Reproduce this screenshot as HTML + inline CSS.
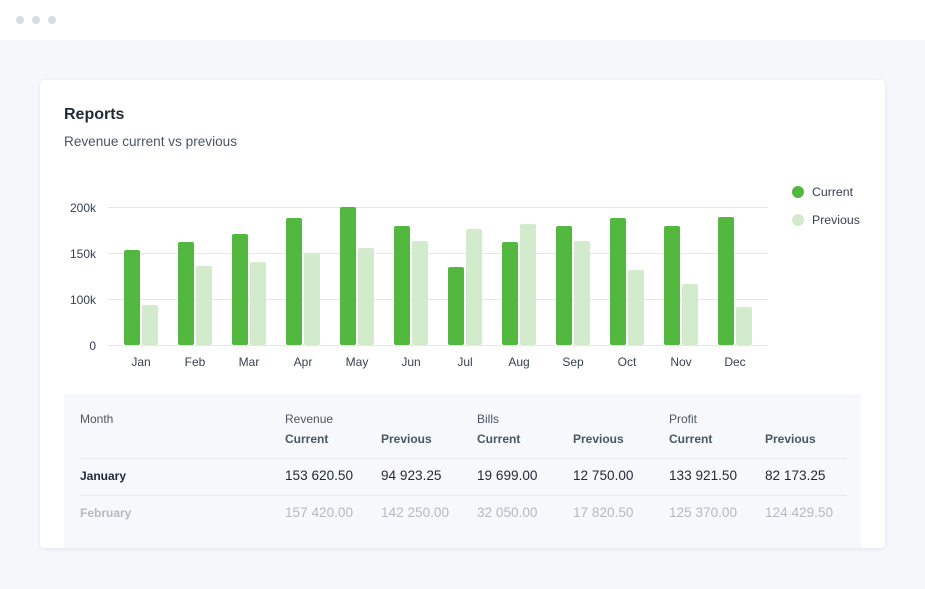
<!DOCTYPE html>
<html><head><meta charset="utf-8"><style>
*{margin:0;padding:0;box-sizing:border-box}
body{width:925px;height:589px;background:#f5f7fb;font-family:"Liberation Sans",sans-serif;position:relative;overflow:hidden;color:#1f2937}
.top{position:absolute;left:0;top:0;width:925px;height:40px;background:#fff}
.dot{position:absolute;top:16px;width:8px;height:8px;border-radius:50%;background:#d7dbe3}
.card{position:absolute;left:40px;top:80px;width:845px;height:468px;background:#fff;border-radius:4px;box-shadow:0 1px 4px rgba(20,30,60,.08)}
.t{position:absolute;white-space:nowrap}
.panel{position:absolute;left:64px;top:394px;width:797px;height:154px;background:#f7f8fc}
.d{font-size:13.6px}
</style></head><body>
<div class="top"><div class="dot" style="left:16px"></div><div class="dot" style="left:32px"></div><div class="dot" style="left:48px"></div></div>
<div class="card"></div>
<div class="t" style="left:64px;top:106px;font-size:16px;font-weight:bold;color:#1f2937">Reports</div>
<div class="t" style="left:64px;top:134px;font-size:13.6px;color:#4b5563">Revenue current vs previous</div>
<svg style="position:absolute;left:0;top:0" width="925" height="589" font-family="Liberation Sans, sans-serif">
<g stroke="#e5e7ef" stroke-width="1">
<line x1="108" x2="768" y1="207.5" y2="207.5"/><line x1="108" x2="768" y1="253.5" y2="253.5"/><line x1="108" x2="768" y1="299.5" y2="299.5"/><line x1="108" x2="768" y1="345.5" y2="345.5"/>
</g>
<g font-size="12" fill="#374151" text-anchor="end">
<text x="96" y="212">200k</text><text x="96" y="258">150k</text><text x="96" y="304">100k</text><text x="96" y="350">0</text>
</g>
<g id="bars"></g>
<g font-size="12" fill="#374151" text-anchor="middle">
<text x="141" y="366">Jan</text><text x="195" y="366">Feb</text><text x="249" y="366">Mar</text><text x="303" y="366">Apr</text><text x="357" y="366">May</text><text x="411" y="366">Jun</text><text x="465" y="366">Jul</text><text x="519" y="366">Aug</text><text x="573" y="366">Sep</text><text x="627" y="366">Oct</text><text x="681" y="366">Nov</text><text x="735" y="366">Dec</text>
</g>
<circle cx="798" cy="192" r="6" fill="#52b83f"/><circle cx="798" cy="220" r="6" fill="#d1ebcc"/>
<text x="812" y="196" font-size="12.3" fill="#374151">Current</text>
<text x="812" y="224" font-size="12.3" fill="#374151">Previous</text>
</svg>
<div class="panel"></div>
<div style="position:absolute;left:80px;top:458px;width:767px;height:1px;background:#e8eaf0"></div>
<div style="position:absolute;left:80px;top:495px;width:767px;height:1px;background:#e8eaf0"></div>
<div style="font-size:12px">
<div class="t" style="left:80px;top:412px;color:#4b5563">Month</div>
<div class="t" style="left:285px;top:412px;color:#4b5563">Revenue</div>
<div class="t" style="left:477px;top:412px;color:#4b5563">Bills</div>
<div class="t" style="left:669px;top:412px;color:#4b5563">Profit</div>
<div class="t" style="left:285px;top:432px;font-weight:bold;color:#4b5563">Current</div>
<div class="t" style="left:381px;top:432px;font-weight:bold;color:#4b5563">Previous</div>
<div class="t" style="left:477px;top:432px;font-weight:bold;color:#4b5563">Current</div>
<div class="t" style="left:573px;top:432px;font-weight:bold;color:#4b5563">Previous</div>
<div class="t" style="left:669px;top:432px;font-weight:bold;color:#4b5563">Current</div>
<div class="t" style="left:765px;top:432px;font-weight:bold;color:#4b5563">Previous</div>
<div class="t" style="left:80px;top:469px;font-weight:bold;color:#1f2937">January</div>
<div class="t d" style="left:285px;top:468px;color:#1f2937">153 620.50</div>
<div class="t d" style="left:381px;top:468px;color:#1f2937">94 923.25</div>
<div class="t d" style="left:477px;top:468px;color:#1f2937">19 699.00</div>
<div class="t d" style="left:573px;top:468px;color:#1f2937">12 750.00</div>
<div class="t d" style="left:669px;top:468px;color:#1f2937">133 921.50</div>
<div class="t d" style="left:765px;top:468px;color:#1f2937">82 173.25</div>
<div style="color:#b4b9c3">
<div class="t" style="left:80px;top:506px;font-weight:bold">February</div>
<div class="t d" style="left:285px;top:505px">157 420.00</div>
<div class="t d" style="left:381px;top:505px">142 250.00</div>
<div class="t d" style="left:477px;top:505px">32 050.00</div>
<div class="t d" style="left:573px;top:505px">17 820.50</div>
<div class="t d" style="left:669px;top:505px">125 370.00</div>
<div class="t d" style="left:765px;top:505px">124 429.50</div>
</div></div>
<script>
var c=[250,242,234,218,207,226,267,242,226,218,226,217],p=[305,266,262,253,248,241,229,224,241,270,284,307],s='';
for(var i=0;i<12;i++){var x=124+54*i;
s+='<rect x="'+x+'" y="'+c[i]+'" width="16" height="'+(345-c[i])+'" rx="2" fill="#52b83f"/>';
s+='<rect x="'+(x+18)+'" y="'+p[i]+'" width="16" height="'+(345-p[i])+'" rx="2" fill="#d1ebcc"/>';}
document.getElementById('bars').innerHTML=s;
</script>
</body></html>
